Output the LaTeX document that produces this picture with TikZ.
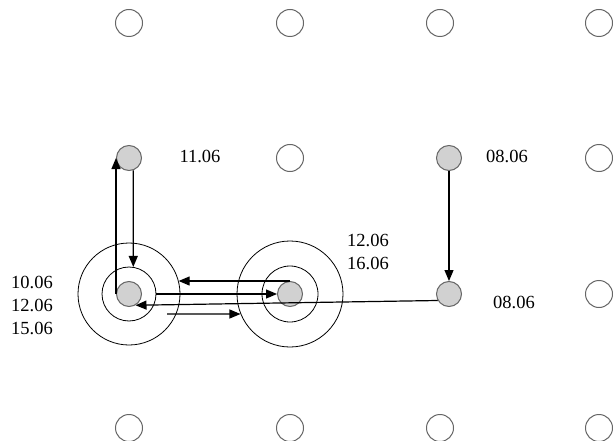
\documentclass[tikz,border=0pt]{standalone}
\usepackage{fontspec}
\setmainfont{Liberation Serif}
\usetikzlibrary{arrows.meta,calc}
\begin{document}
\begin{tikzpicture}[x=1pt,y=-1pt,
 open/.style={circle,draw=black!60,line width=1pt,minimum size=27pt,inner sep=0pt},
 hub/.style={circle,draw=black!60,fill=black!18,line width=1pt,minimum size=25pt,inner sep=0pt},
 ring/.style={circle,draw=black,line width=0.8pt,inner sep=0pt},
 conn/.style={draw=black,line width=1.2pt,-{Triangle[length=11pt,width=9pt]}},
 lbl/.style={font=\fontsize{18.5}{23}\selectfont,align=center,inner sep=0pt}]
\useasboundingbox (0,0) rectangle (613,441);
% open grid circles
\node[open] (o11) at (129,23) {};
\node[open] (o12) at (290,23) {};
\node[open] (o13) at (440,23) {};
\node[open] (o14) at (599,23) {};
\node[open] (o22) at (290,158) {};
\node[open] (o24) at (599,158) {};
\node[open] (o34) at (599,294) {};
\node[open] (o41) at (129,428) {};
\node[open] (o42) at (290,428) {};
\node[open] (o43) at (440,428) {};
\node[open] (o44) at (599,428) {};
% rings
\node[ring,minimum size=102pt] (r1out) at (129,294) {};
\node[ring,minimum size=54pt] (r1in) at (129,294) {};
\node[ring,minimum size=106pt] (r2out) at (290,294) {};
\node[ring,minimum size=56pt] (r2in) at (290,294) {};
% grey hubs
\node[hub] (a) at (129,158) {};
\node[hub] (d) at (449,158) {};
\node[hub] (g1) at (129,294) {};
\node[hub] (g2) at (290,294) {};
\node[hub] (g3) at (449,294) {};
% labels
\node[lbl] (l1) at (200,156) {11.06};
\node[lbl] (l2) at (507,156) {08.06};
\node[lbl] (l3) at (514,302) {08.06};
\node[lbl] (l4) at (368,252) {12.06\\16.06};
\node[lbl] (l5) at (32,305) {10.06\\12.06\\15.06};
% connectors
\draw[conn] (g1.west) -- (a.west);
\draw[conn] (a.-71) -- (r1in.81);
\draw[conn] (g2.north) -- (g2.north -| r1out.15);
\draw[conn] (r1in.east) -- (g2.west);
\draw[conn] (g3.210) -- (g1.-60);
\coordinate (s) at (167,314);
\draw[conn] (s) -- (r2out.202);
\draw[conn] (d.south) -- (g3.north);
\end{tikzpicture}
\end{document}
